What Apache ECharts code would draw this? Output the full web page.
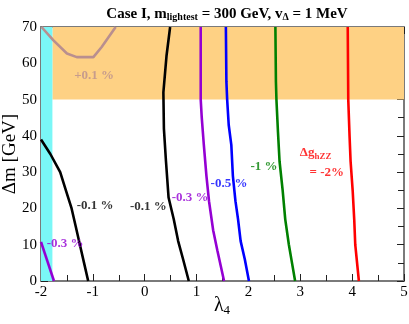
<!DOCTYPE html>
<html>
<head>
<meta charset="utf-8">
<script src="https://cdn.jsdelivr.net/npm/echarts@6/dist/echarts.min.js"></script>
<style>
  html, body { margin: 0; padding: 0; background: #fff; }
  #chart { width: 409px; height: 324px; }
</style>
</head>
<body>
<div id="chart"></div>
<script>
// x ticks / y ticks
const xTicks = [-2, -1, 0, 1, 2, 3, 4, 5]
const yTicks = [0, 10, 20, 30, 40, 50, 60, 70]

// contour lines, [lambda4, delta m]
const blackLeft = [[-2, 39], [-1.82, 35], [-1.63, 30], [-1.52, 25], [-1.41, 20], [-1.33, 15], [-1.25, 10], [-1.17, 5], [-1.09, 0]]
const blackMid = [[0.49, 70], [0.42, 62], [0.36, 52], [0.37, 42], [0.41, 33], [0.46, 23], [0.56, 17], [0.645, 11], [0.74, 6], [0.85, 0]]
const purpleSmall = [[-2, 10.8], [-1.75, 0]]
const purpleMain = [[1.08, 70], [1.08, 50], [1.10, 45], [1.14, 37.5], [1.19, 29], [1.24, 22], [1.32, 14], [1.40, 8.5], [1.53, 0]]
const blueMain = [[1.565, 70], [1.575, 55], [1.59, 50], [1.62, 43], [1.67, 37.5], [1.70, 29], [1.75, 22], [1.80, 17], [1.85, 11], [1.93, 6], [2.01, 0]]
const greenMain = [[2.52, 70], [2.53, 55], [2.54, 50], [2.57, 41], [2.60, 33], [2.66, 25], [2.71, 17], [2.78, 10], [2.84, 5], [2.90, 0]]
const redMain = [[3.915, 70], [3.925, 50], [3.95, 40], [3.97, 33], [4.01, 25], [4.04, 17], [4.06, 10], [4.13, 0]]
const brownPlus = [[-1.99, 70], [-1.76, 66.3], [-1.5, 62.7], [-1.31, 61.7], [-0.99, 61.7], [-0.83, 64.5], [-0.56, 70]]

// shaded regions
const cyanBand = [[-2, 0], [-1.78, 70]]
const orangeBand = [[-1.78, 50], [5, 70]]

// labels: [x, y, text, colour]
const labels = [
  [-1.36, 56.6, '+0.1 %', '#b98f8f'],
  [-1.31, 20.9, '-0.1 %', '#000'],
  [-0.285, 20.4, '-0.1 %', '#000'],
  [0.52, 23.1, '-0.3 %', '#9400d3'],
  [1.27, 26.9, '-0.5 %', '#0000ff'],
  [2.04, 31.5, '-1 %', '#008000'],
  [2.99, 35.3, '{m|Δg}{s|hZZ}', '#ff0000'],
  [3.18, 29.8, '= -2%', '#ff0000'],
  [-1.89, 10.4, '-0.3 %', '#9400d3']
]

const serif = '"Liberation Serif", "DejaVu Serif", serif'

const chart = echarts.init(document.getElementById('chart'))

const lineSeries = (data, color, z) => ({
  type: 'line',
  data: data,
  showSymbol: false,
  symbol: 'none',
  silent: true,
  z: z || 3,
  lineStyle: { color: color, width: 2.6 }
})

const frameAxis = {
  axisLine: { show: true, onZero: false, lineStyle: { color: '#7a7a7a', width: 2 } },
  axisTick: { show: true, inside: true, length: 7, lineStyle: { color: '#222', width: 1 } },
  minorTick: { show: true, splitNumber: 2, length: 6, lineStyle: { color: '#222', width: 1 } },
  splitLine: { show: false },
  minorSplitLine: { show: false }
}

const option = {
  animation: false,
  backgroundColor: '#fff',
  title: {
    left: 222,
    top: 1,
    textAlign: 'center',
    text: '{b|Case I, m}{s|lightest}{b| = 300 GeV, v}{s|Δ}{b| = 1 MeV}',
    textStyle: {
      rich: {
        b: { fontFamily: serif, fontWeight: 'bold', fontSize: 15, color: '#000' },
        s: { fontFamily: serif, fontWeight: 'bold', fontSize: 10, color: '#000', verticalAlign: 'bottom', padding: [6, 0, 0, 0] }
      }
    }
  },
  // axis titles
  graphic: [
    {
      type: 'text',
      x: 10,
      y: 154,
      rotation: Math.PI / 2,
      style: {
        text: 'Δm [GeV]',
        font: '19px ' + serif,
        fill: '#000',
        align: 'center',
        verticalAlign: 'middle'
      }
    },
    {
      type: 'text',
      x: 222,
      y: 306,
      style: {
        text: '{l|λ}{s|4}',
        align: 'center',
        verticalAlign: 'middle',
        rich: {
          l: { fontFamily: serif, fontSize: 20, fill: '#000' },
          s: { fontFamily: serif, fontSize: 13, fill: '#000', padding: [10, 0, 0, 0] }
        }
      }
    }
  ],
  grid: { left: 41, right: 5, top: 27, bottom: 43, outerBoundsMode: 'none', containLabel: false },
  xAxis: [
    Object.assign({}, frameAxis, {
      type: 'value',
      min: xTicks[0],
      max: xTicks[xTicks.length - 1],
      interval: 1,
      position: 'bottom',
      axisLabel: { fontFamily: serif, fontSize: 15, color: '#000', margin: 4 }
    }),
    Object.assign({}, frameAxis, {
      type: 'value',
      min: xTicks[0],
      max: xTicks[xTicks.length - 1],
      interval: 1,
      position: 'top',
      axisLabel: { show: false }
    })
  ],
  yAxis: [
    Object.assign({}, frameAxis, {
      type: 'value',
      min: yTicks[0],
      max: yTicks[yTicks.length - 1],
      interval: 10,
      position: 'left',
      axisLabel: { fontFamily: serif, fontSize: 15, color: '#000', margin: 4 }
    }),
    Object.assign({}, frameAxis, {
      type: 'value',
      min: yTicks[0],
      max: yTicks[yTicks.length - 1],
      interval: 10,
      position: 'right',
      axisLabel: { show: false }
    })
  ],
  series: [
    {
      type: 'line',
      data: [],
      z: 1,
      silent: true,
      markArea: {
        silent: true,
        data: [
          [
            { coord: orangeBand[0], itemStyle: { color: '#fed184' } },
            { coord: orangeBand[1] }
          ],
          [
            { coord: cyanBand[0], itemStyle: { color: '#7af7f7' } },
            { coord: cyanBand[1] }
          ]
        ]
      }
    },
    lineSeries(brownPlus, '#b98f8f'),
    lineSeries(blackLeft, '#000'),
    lineSeries(blackMid, '#000'),
    lineSeries(purpleSmall, '#9400d3'),
    lineSeries(purpleMain, '#9400d3'),
    lineSeries(blueMain, '#0000ff'),
    lineSeries(greenMain, '#008000'),
    lineSeries(redMain, '#ff0000'),
    {
      type: 'scatter',
      symbolSize: 0,
      silent: true,
      z: 5,
      data: labels.map((l) => ({
        value: [l[0], l[1]],
        label: {
          show: true,
          position: 'right',
          distance: 0,
          formatter: l[2],
          fontFamily: serif,
          fontWeight: 'bold',
          fontSize: 13,
          color: l[3],
          rich: {
            m: { fontFamily: serif, fontWeight: 'bold', fontSize: 13, color: l[3] },
            s: { fontFamily: serif, fontWeight: 'bold', fontSize: 9, color: l[3], padding: [8, 0, 0, 0] }
          }
        }
      }))
    }
  ]
}

chart.setOption(option)
</script>
</body>
</html>
